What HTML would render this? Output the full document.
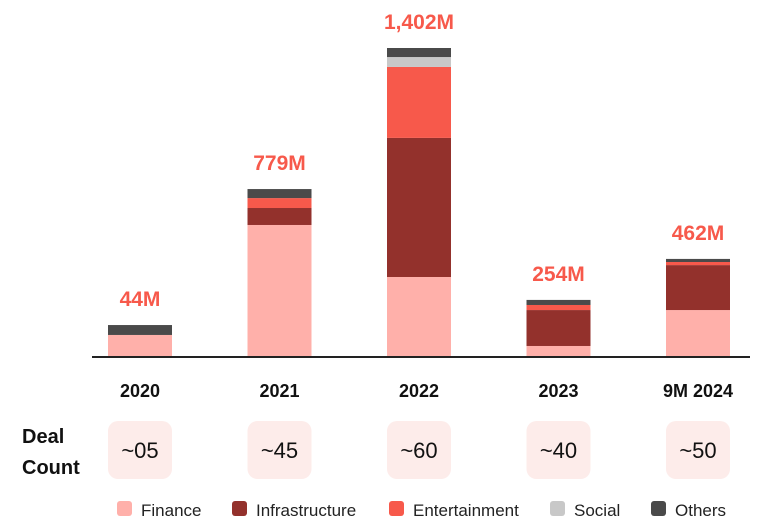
<!DOCTYPE html>
<html><head><meta charset="utf-8"><style>
body{margin:0;background:#fff;font-family:"Liberation Sans",sans-serif;}
svg{display:block}
</style></head><body>
<svg id="chart" width="763" height="528">
<g id="bars"></g>
<line x1="92" y1="357" x2="750" y2="357" stroke="#222" stroke-width="2"/>
<text x="22" y="443" font-size="20" font-weight="bold" fill="#111">Deal</text>
<text x="22" y="474" font-size="20" font-weight="bold" fill="#111">Count</text>
<g id="legend"></g>
</svg>
<script>
const categories=["2020","2021","2022","2023","9M 2024"];
const finance=[100,599,363,50,213];
const infrastructure=[0,77,631,163,204];
const entertainment=[0,45,322,23,14];
const social=[0,0,45,0,0];
const others=[45,41,41,23,14];
const totals=["44M","779M","1,402M","254M","462M"];
const dealCounts=["~05","~45","~60","~40","~50"];
const seriesNames=["Finance","Infrastructure","Entertainment","Social","Others"];
const colors=["#ffb0aa","#93312c","#f7594b","#c8c8c8","#4a4a4a"];
const series=[finance,infrastructure,entertainment,social,others];
const NS="http://www.w3.org/2000/svg";
const base=357,pxPerM=0.2204;
const y=v=>base-v*pxPerM;
const xc=i=>140+i*139.5;
const bw=64;
const g=document.getElementById('bars');
const svg=document.getElementById('chart');
function mk(t,a,p){const e=document.createElementNS(NS,t);for(const k in a)e.setAttribute(k,a[k]);(p||g).appendChild(e);return e;}
categories.forEach((c,i)=>{
  let cum=0;
  series.forEach((s,j)=>{
    const v=s[i]; if(!v)return;
    const r=mk('rect',{x:xc(i)-bw/2,y:y(cum+v),width:bw,height:v*pxPerM,fill:colors[j]});
    
    
    cum+=v;
  });
  const t=mk('text',{x:xc(i),y:y(cum)-19,'text-anchor':'middle','font-size':21,'font-weight':'bold',fill:'#f7594b'});
  t.textContent=totals[i];
  
  
  const l=mk('text',{x:xc(i),y:397,'text-anchor':'middle','font-size':18,'font-weight':'bold',fill:'#111'},svg);
  l.textContent=c;
  
  
  const b=mk('rect',{x:xc(i)-32,y:421,width:64,height:58,rx:10,fill:'#fdecea'},svg);
  
  
  const d=mk('text',{x:xc(i),y:458,'text-anchor':'middle','font-size':22,fill:'#111'},svg);
  d.textContent=dealCounts[i];
  
  
});
const lg=document.getElementById('legend');
const lx=[117,232,389,550,651];
seriesNames.forEach((n,j)=>{
  const r=mk('rect',{x:lx[j],y:501,width:15,height:15,rx:3,fill:colors[j]},lg);
  
  
  const t=mk('text',{x:lx[j]+24,y:516,'font-size':17,fill:'#222'},lg);
  t.textContent=n;
  
  
});
</script>
</body></html>
